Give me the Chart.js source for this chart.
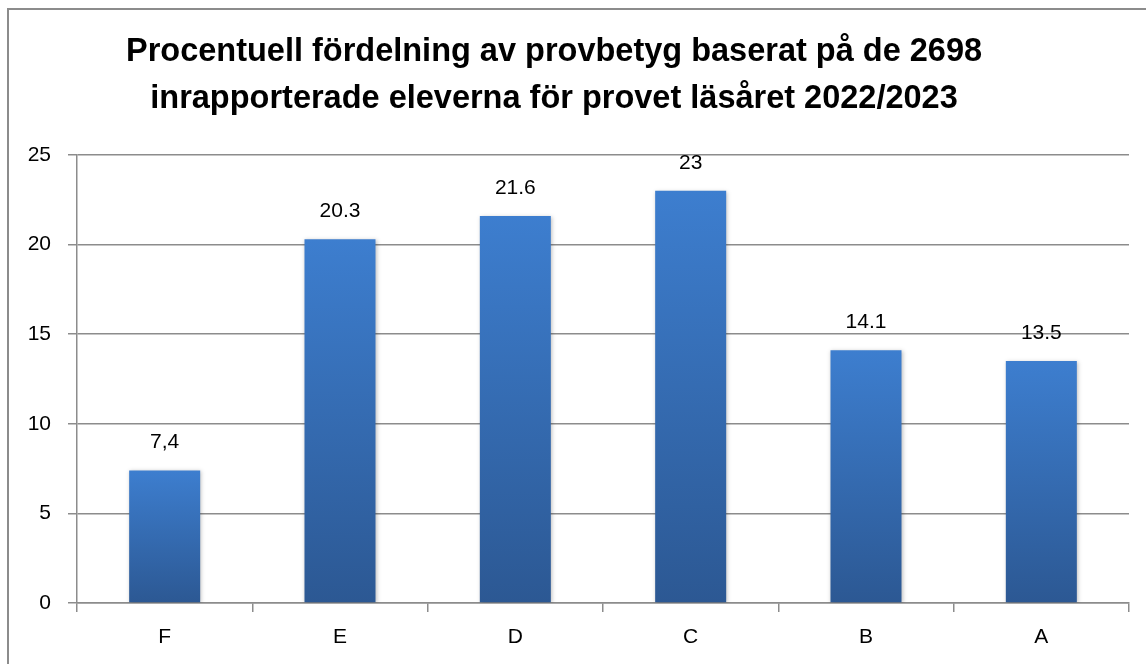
<!DOCTYPE html>
<html>
<head>
<meta charset="utf-8">
<script src="https://cdn.jsdelivr.net/npm/chart.js@4/dist/chart.umd.min.js"></script>
<style>
  html, body { margin: 0; padding: 0; background: #fff; overflow: hidden; }
  #wrap { position: relative; width: 1146px; height: 664px; }
  #frame { position: absolute; left: 7px; top: 8px; width: 1160px; height: 680px;
           border: 2px solid #8c8c8c; box-sizing: border-box; pointer-events: none; }
  canvas { position: absolute; left: 0; top: 0; }
</style>
</head>
<body>
<div id="wrap">
  <canvas id="chart" width="1146" height="664"></canvas>
  <div id="frame"></div>
</div>
<script>
// data
var grades = ["F", "E", "D", "C", "B", "A"];
var percent = [7.4, 20.3, 21.6, 23, 14.1, 13.5];
var percentLabels = ["7,4", "20.3", "21.6", "23", "14.1", "13.5"];
var yTicks = [0, 5, 10, 15, 20, 25];
var titleLines = ["Procentuell fördelning av provbetyg baserat på de 2698",
                  "inrapporterade eleverna för provet läsåret 2022/2023"];

var FONT = "'Liberation Sans', Arial, sans-serif";

// title + value labels drawn on top
var extras = {
  id: "extras",
  beforeDatasetDraw: function (chart) {
    var c = chart.ctx;
    c.save();
    c.shadowColor = "rgba(0,0,0,0.25)";
    c.shadowBlur = 4;
    c.shadowOffsetX = 1;
    c.shadowOffsetY = 1;
  },
  afterDatasetDraw: function (chart) {
    chart.ctx.restore();
  },
  afterDraw: function (chart) {
    var c = chart.ctx;
    c.save();
    c.fillStyle = "#000";
    c.textAlign = "center";
    c.textBaseline = "middle";
    c.font = "bold 32.5px " + FONT;
    c.fillText(titleLines[0], 554, 52);
    c.fillText(titleLines[1], 554, 99);

    c.font = "21px " + FONT;
    var meta = chart.getDatasetMeta(0);
    meta.data.forEach(function (bar, i) {
      c.fillText(percentLabels[i], bar.x, bar.y - 28);
    });
    c.restore();
  }
};

new Chart(document.getElementById("chart"), {
  type: "bar",
  data: {
    labels: grades,
    datasets: [{
      data: percent,
      barPercentage: 0.405,
      categoryPercentage: 1,
      backgroundColor: function (ctx) {
        var chart = ctx.chart;
        if (!chart.chartArea || ctx.dataIndex === undefined) return "#3a74c0";
        var ys = chart.scales.y;
        var top = ys.getPixelForValue(percent[ctx.dataIndex]);
        var bottom = ys.getPixelForValue(0);
        var g = chart.ctx.createLinearGradient(0, top, 0, bottom);
        g.addColorStop(0, "#3d7ecf");
        g.addColorStop(1, "#2c5893");
        return g;
      }
    }]
  },
  options: {
    responsive: false,
    animation: false,
    events: [],
    layout: { padding: { top: 155, right: 17, bottom: 0, left: 0 } },
    plugins: {
      legend: { display: false },
      title: { display: false },
      tooltip: { enabled: false }
    },
    scales: {
      x: {
        offset: true,
        grid: {
          offset: true,
          drawOnChartArea: false,
          drawTicks: true,
          tickLength: 9,
          color: "#8c8c8c",
          lineWidth: 1.5
        },
        border: { display: true, color: "#8c8c8c", width: 1.5 },
        ticks: { color: "#000", font: { family: FONT, size: 21 }, padding: 13 },
        afterFit: function (s) { s.height = 61; }
      },
      y: {
        min: 0,
        max: 25,
        afterBuildTicks: function (s) {
          s.ticks = yTicks.map(function (v) { return { value: v }; });
        },
        grid: {
          color: "#8c8c8c",
          lineWidth: 1.5,
          tickLength: 9
        },
        border: { display: true, color: "#8c8c8c", width: 1.5 },
        ticks: { color: "#000", font: { family: FONT, size: 21 }, padding: 17 },
        afterFit: function (s) { s.width = 77; }
      }
    }
  },
  plugins: [extras]
});
</script>
</body>
</html>
